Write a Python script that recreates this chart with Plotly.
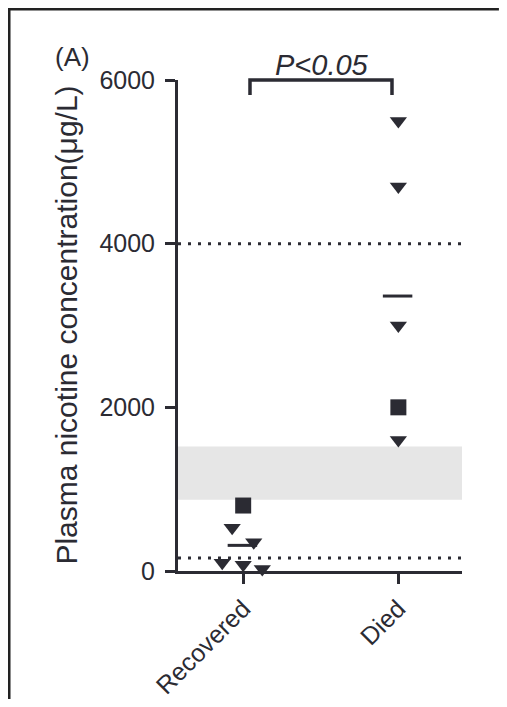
import plotly.graph_objects as go

# ---- data ----
groups = ["Recovered", "Died"]
recovered_tri = [530, 350, 100, 75, 25]
recovered_tri_jitter = [-0.071, 0.068, -0.135, 0.0, 0.123]
recovered_sq = [800]
died_tri = [5500, 4700, 3000, 1600]
died_sq = [2000]
ref_lines = [4000, 160]
band = [870, 1520]
y_ticks = [0, 2000, 4000, 6000]
p_label = "P<0.05"
panel_label = "(A)"
y_title = "Plasma nicotine concentration(μg/L)"

INK = "#2b2b33"
FONT = "Liberation Sans, Arial, sans-serif"

fig = go.Figure()

rec_all = recovered_tri + recovered_sq
died_all = died_tri + died_sq
means = [sum(rec_all) / len(rec_all), sum(died_all) / len(died_all)]

# band and reference lines
fig.add_shape(type="rect", xref="x domain", yref="y", x0=0, x1=1,
              y0=band[0], y1=band[1], fillcolor="#e6e6e6", line_width=0, layer="below")
for v in ref_lines:
    fig.add_shape(type="line", xref="x domain", yref="y", x0=0, x1=1, y0=v, y1=v,
                  line=dict(color=INK, width=3, dash="3px,7px"), layer="above")

# points
fig.add_trace(go.Scatter(x=[0 + j for j in recovered_tri_jitter], y=recovered_tri, mode="markers",
                         marker=dict(symbol="triangle-down", size=15, color=INK), cliponaxis=False,
                         showlegend=False))
fig.add_trace(go.Scatter(x=[0] * len(recovered_sq), y=recovered_sq, mode="markers",
                         marker=dict(symbol="square", size=16, color=INK), cliponaxis=False,
                         showlegend=False))
fig.add_trace(go.Scatter(x=[1] * len(died_tri), y=died_tri, mode="markers",
                         marker=dict(symbol="triangle-down", size=15, color=INK), cliponaxis=False,
                         showlegend=False))
fig.add_trace(go.Scatter(x=[1] * len(died_sq), y=died_sq, mode="markers",
                         marker=dict(symbol="square", size=16, color=INK), cliponaxis=False,
                         showlegend=False))

# mean lines
for i, m in enumerate(means):
    fig.add_shape(type="line", xref="x", yref="y", x0=i - 0.1, x1=i + 0.09, y0=m, y1=m,
                  line=dict(color=INK, width=3))

# significance bracket
fig.add_shape(type="path", xref="x domain", yref="paper",
              path="M 0.2535,0.9695 L 0.2535,1 L 0.7535,1 L 0.7535,0.9695",
              line=dict(color=INK, width=3.5))
fig.add_annotation(x=0.507, y=1.0305, xref="x domain", yref="paper",
                   xanchor="center", yanchor="middle",
                   text="<i>" + p_label.replace("<", "&lt;") + "</i>", showarrow=False,
                   font=dict(family=FONT, size=29, color=INK))
fig.add_annotation(x=-0.37, y=1.047, xref="paper", yref="paper",
                   xanchor="center", yanchor="middle",
                   text=panel_label, showarrow=False,
                   font=dict(family=FONT, size=26, color=INK))
fig.add_annotation(x=-0.394, y=0.5, xref="paper", yref="paper", textangle=-90,
                   xanchor="center", yanchor="middle",
                   text=y_title, showarrow=False,
                   font=dict(family=FONT, size=30, color=INK))

# frame border (top/left)
fig.add_shape(type="line", xref="paper", yref="paper", x0=-0.595, x1=-0.595, y0=-0.3, y1=1.1446,
              line=dict(color="#222222", width=3))
fig.add_shape(type="line", xref="paper", yref="paper", x0=-0.6, x1=1.13, y0=1.1446, y1=1.1446,
              line=dict(color="#222222", width=3))

fig.update_layout(
    width=491, height=691,
    margin=dict(l=170, r=37, t=72, b=128),
    paper_bgcolor="white", plot_bgcolor="white",
    font=dict(family=FONT, color=INK),
    xaxis=dict(range=[-0.42, 1.41], tickvals=[0, 1], ticktext=groups, tickangle=-45,
               showline=True, linecolor=INK, linewidth=3, ticks="outside", ticklen=10,
               tickwidth=3, tickcolor=INK, showgrid=False, zeroline=False, automargin=False,
               tickfont=dict(family=FONT, size=25, color=INK)),
    yaxis=dict(range=[0, 6000], tickvals=y_ticks, ticktext=[str(t) for t in y_ticks],
               showline=True, linecolor=INK, linewidth=3, ticks="outside", ticklen=10,
               tickwidth=3, tickcolor=INK, showgrid=False, zeroline=False, automargin=False,
               ticklabelstandoff=5,
               tickfont=dict(family=FONT, size=25, color=INK)),
)

fig.write_html("out.html", config={"displayModeBar": False})
